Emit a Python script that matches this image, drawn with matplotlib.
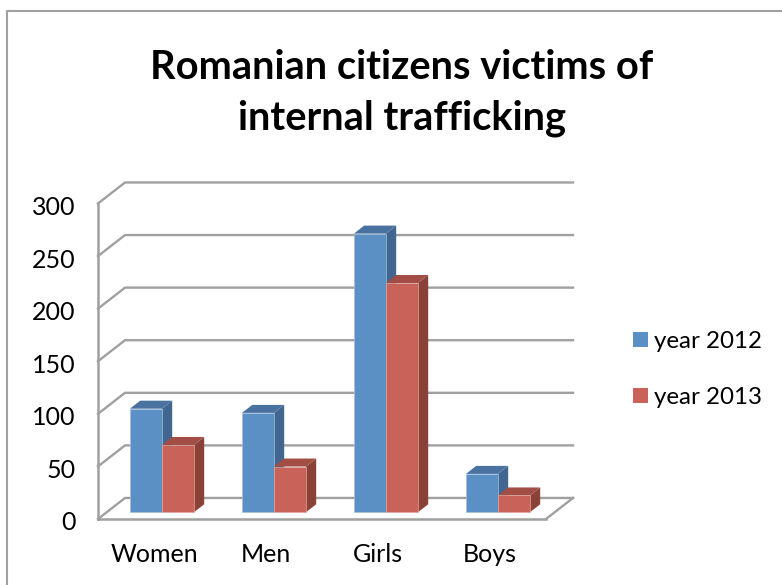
import matplotlib
matplotlib.use('Agg')
import matplotlib.pyplot as plt
from matplotlib.patches import Patch, Polygon
from matplotlib.transforms import ScaledTranslation

categories = ['Women', 'Men', 'Girls', 'Boys']
year_2012 = [98.5, 94.5, 265, 36.5]
year_2013 = [64, 43.5, 218, 16]
y_ticks = [0, 50, 100, 150, 200, 250, 300]
series_names = ['year 2012', 'year 2013']

W, H = 782, 585
GREY = '#a0a0a0'
BLUE = ['#5b90c5', '#4a72a0', '#426690', '#a3c0dd']
RED = ['#c9635a', '#a34e45', '#894138', '#e0a8a2']

# oblique depth of the 3d box, in data units
DX = 27 / 112
DY = 20
BAR_W = 0.2857
GAP = 0.208
D0, D1 = 0.32, 0.70

plt.rcParams['font.family'] = ['Lato', 'DejaVu Sans']

fig = plt.figure(figsize=(W / 100, H / 100), dpi=100)
ax = fig.add_axes([98 / W, 1 - 519 / H, 448 / W, 315.5 / H])
ax.set_xlim(0, 4)
ax.set_ylim(0, 300)
ax.patch.set_visible(False)


def pr(x, v, d):
    return (x + d * DX, v + d * DY)


def bar3d(x, v, cols):
    a = BAR_W
    front = [pr(x, 0, D0), pr(x + a, 0, D0), pr(x + a, v, D0), pr(x, v, D0)]
    top = [pr(x, v, D0), pr(x + a, v, D0), pr(x + a, v, D1), pr(x, v, D1)]
    side = [pr(x + a, 0, D0), pr(x + a, 0, D1), pr(x + a, v, D1), pr(x + a, v, D0)]
    ax.add_patch(Polygon(side, fc=cols[2], ec='none', zorder=3, clip_on=False))
    ax.add_patch(Polygon(top, fc=cols[1], ec='none', zorder=3, clip_on=False))
    ax.add_patch(Polygon(front, fc=cols[0], ec=cols[3], lw=0.5, zorder=3, clip_on=False))


# walls and floor
for t in y_ticks:
    ax.plot([0, DX, 4 + DX], [t, t + DY, t + DY], color=GREY, lw=1.7, clip_on=False,
            zorder=1, solid_joinstyle='miter')
ax.plot([4, 4 + DX], [0, DY], color=GREY, lw=1.7, clip_on=False, zorder=1)

for i in range(len(categories)):
    bar3d(i + GAP, year_2012[i], BLUE)
    bar3d(i + GAP + BAR_W, year_2013[i], RED)

for s in ['top', 'right']:
    ax.spines[s].set_visible(False)
for s in ['left', 'bottom']:
    ax.spines[s].set_color(GREY)
    ax.spines[s].set_linewidth(1.8)
    ax.spines[s].set_zorder(2)

ax.set_xticks([i + 0.5 for i in range(len(categories))])
ax.set_xticklabels(categories)
ax.set_yticks(y_ticks)
ax.tick_params(axis='x', length=0, pad=17, labelsize=18, labelcolor='black')
ax.tick_params(axis='y', length=0, pad=16, labelsize=18, labelcolor='black')

# labels sit a little below their gridline
nudge = ScaledTranslation(0, -2 / 100, fig.dpi_scale_trans)
for lab in ax.get_yticklabels():
    lab.set_transform(lab.get_transform() + nudge)

fig.text(402 / W, 1 - 93 / H, 'Romanian citizens victims of\ninternal trafficking',
         ha='center', va='center', fontsize=28.7, fontweight='bold', linespacing=1.47)

handles = [Patch(fc=BLUE[0]), Patch(fc=RED[0])]
fig.legend(handles, series_names, loc='center left',
           bbox_to_anchor=(611 / W, 1 - 369.5 / H), frameon=False, fontsize=17.4,
           handlelength=0.62, handleheight=0.62, handletextpad=0.25, labelspacing=1.44)

# picture frame
fig.add_artist(plt.Line2D([7 / W, 7 / W, 1], [0, 1 - 11 / H, 1 - 11 / H], color=GREY, lw=1.5))

fig.savefig('out.png', dpi=100)
